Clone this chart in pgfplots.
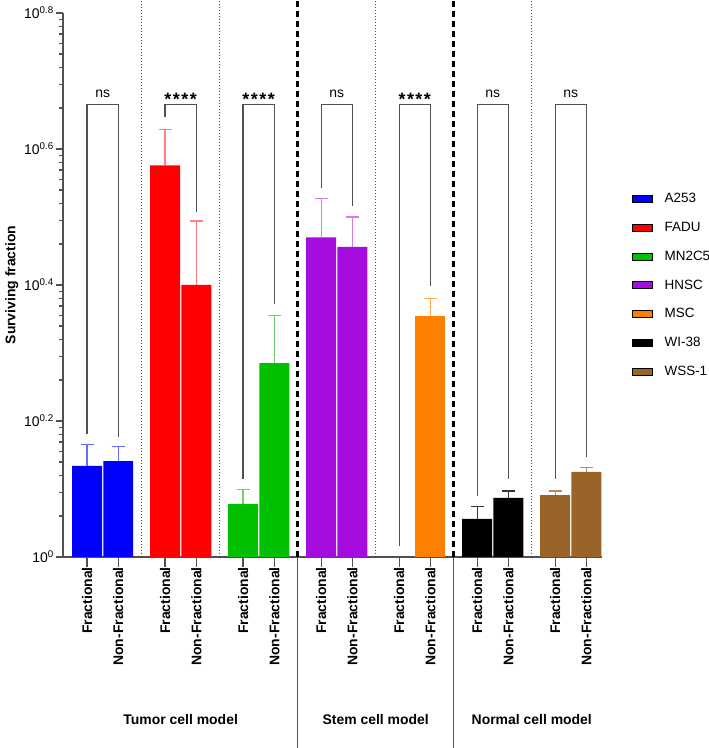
\documentclass[border=0pt]{standalone}
\usepackage{pgfplots}
\pgfplotsset{compat=1.18}
\usepackage{fontspec}
\setmainfont{Liberation Sans}
\definecolor{axgray}{HTML}{505050}
\definecolor{cA}{HTML}{0000FF}
\definecolor{cAe}{HTML}{6A6AFF}
\definecolor{cF}{HTML}{FF0000}
\definecolor{cFe}{HTML}{FF8080}
\definecolor{cM}{HTML}{00C000}
\definecolor{cMe}{HTML}{70D070}
\definecolor{cH}{HTML}{A50DDF}
\definecolor{cHe}{HTML}{D47AF0}
\definecolor{cS}{HTML}{FF8000}
\definecolor{cSe}{HTML}{FFAA55}
\definecolor{cW}{HTML}{000000}
\definecolor{cWe}{HTML}{333333}
\definecolor{cB}{HTML}{9A6428}
\definecolor{cBe}{HTML}{B88A55}
\pgfplotsset{
  mybar/.style 2 args={ybar, bar width=0.96, bar shift=0pt, draw=none, fill=#1, forget plot,
    error bars/y dir=plus, error bars/y explicit,
    error bars/error bar style={line width=1.2bp, color=#2},
    error bars/error mark options={rotate=90, mark size=6.5bp, line width=1.2bp, color=#2}},
  bracket/.style={line width=1.2bp, color=axgray, forget plot, mark=none}
}
\newcommand{\stars}{*\hspace{1.5bp}*\hspace{1.5bp}*\hspace{1.5bp}*}
\begin{document}
\begin{tikzpicture}[x=1bp,y=1bp]
\useasboundingbox (0,0) rectangle (709,748);
\begin{axis}[
  at={(63bp,191bp)}, anchor=south west,
  scale only axis, width=539bp, height=544bp,
  xmin=-0.77, xmax=16.5, ymin=0, ymax=0.8,
  clip=false,
  axis x line*=bottom, axis y line*=left,
  axis line style={line width=1.3bp, color=axgray},
  tick align=outside,
  major tick length=7bp, minor tick length=4bp,
  x tick style={/pgfplots/major tick length=10bp},
  every tick/.style={line width=1.2bp, color=axgray},
  xtick={0,1,2.5,3.5,5,6,7.5,8.5,10,11,12.5,13.5,15,16},
  xticklabels={Fractional,Non-Fractional,Fractional,Non-Fractional,Fractional,Non-Fractional,Fractional,Non-Fractional,Fractional,Non-Fractional,Fractional,Non-Fractional,Fractional,Non-Fractional},
  x tick label style={rotate=90, anchor=east, font=\fontsize{14}{16}\selectfont\bfseries, inner sep=3bp},
  ytick={0,0.2,0.4,0.6,0.8},
  yticklabels={10\textsuperscript{0},10\textsuperscript{0.2},10\textsuperscript{0.4},10\textsuperscript{0.6},10\textsuperscript{0.8}},
  minor ytick={0.0602,0.0954,0.1204,0.1398,0.1556,0.1690,0.1806,0.1908,
               0.2602,0.2954,0.3204,0.3398,0.3556,0.3690,0.3806,0.3908,
               0.4602,0.4954,0.5204,0.5398,0.5556,0.5690,0.5806,0.5908,
               0.6602,0.6954,0.7204,0.7398,0.7556,0.7690,0.7806,0.7908},
  y tick label style={font=\fontsize{14}{16}\selectfont, inner sep=2bp},
  ylabel={Surviving fraction},
  ylabel style={at={(axis description cs:-0.095,0.5)}, anchor=center, font=\fontsize{14}{16}\selectfont\bfseries},
  legend image code/.code={\fill[#1] (0bp,-3.5bp) rectangle (20bp,3.5bp); \path (30bp,0bp);},
  legend cell align=left,
  legend style={draw=none, fill=none, at={(axis description cs:1,1)}, anchor=north west,
    xshift=30bp, yshift=-178bp, row sep=14bp, font=\fontsize{13.5}{16}\selectfont,
    inner sep=0pt, nodes={inner sep=2bp}},
]
% separators
\draw[axgray, line width=0.9bp, dash pattern=on 1bp off 2bp] (axis cs:1.75,0) -- (axis cs:1.75,0.818);
\draw[axgray, line width=0.9bp, dash pattern=on 1bp off 2bp] (axis cs:4.25,0) -- (axis cs:4.25,0.818);
\draw[axgray, line width=0.9bp, dash pattern=on 1bp off 2bp] (axis cs:9.25,0) -- (axis cs:9.25,0.818);
\draw[axgray, line width=0.9bp, dash pattern=on 1bp off 2bp] (axis cs:14.25,0) -- (axis cs:14.25,0.818);
\draw[black, line width=2.6bp, dash pattern=on 6bp off 4bp] (axis cs:6.75,0) -- (axis cs:6.75,0.818);
\draw[black, line width=2.6bp, dash pattern=on 6bp off 4bp] (axis cs:11.75,0) -- (axis cs:11.75,0.818);
\draw[axgray, line width=1.2bp] (axis cs:6.75,0) -- ++(0bp,-200bp);
\draw[axgray, line width=1.2bp] (axis cs:11.75,0) -- ++(0bp,-200bp);

% bars: exponent of surviving fraction, upper error
\addplot[mybar={cA}{cAe}] coordinates {(0,0.134) +- (0,0.032) (1,0.141) +- (0,0.021)};
\addplot[mybar={cF}{cFe}] coordinates {(2.5,0.576) +- (0,0.053) (3.5,0.400) +- (0,0.094)};
\addplot[mybar={cM}{cMe}] coordinates {(5,0.078) +- (0,0.021) (6,0.285) +- (0,0.070)};
\addplot[mybar={cH}{cHe}] coordinates {(7.5,0.470) +- (0,0.057) (8.5,0.456) +- (0,0.044)};
\addplot[mybar={cS}{cSe}] coordinates {(11,0.355) +- (0,0.025)};
\addplot[mybar={cW}{cWe}] coordinates {(12.5,0.056) +- (0,0.018) (13.5,0.087) +- (0,0.010)};
\addplot[mybar={cB}{cBe}] coordinates {(15,0.091) +- (0,0.006) (16,0.125) +- (0,0.007)};

% brackets
\addplot[bracket] coordinates {(0,0.181) (0,0.665) (1,0.665) (1,0.176)};
\addplot[bracket] coordinates {(2.5,0.647) (2.5,0.665) (3.5,0.665) (3.5,0.508)};
\addplot[bracket] coordinates {(5,0.115) (5,0.665) (6,0.665) (6,0.372)};
\addplot[bracket] coordinates {(7.5,0.542) (7.5,0.665) (8.5,0.665) (8.5,0.516)};
\addplot[bracket] coordinates {(10,0.016) (10,0.665) (11,0.665) (11,0.398)};
\addplot[bracket] coordinates {(12.5,0.090) (12.5,0.665) (13.5,0.665) (13.5,0.115)};
\addplot[bracket] coordinates {(15,0.115) (15,0.665) (16,0.665) (16,0.147)};

\node[font=\fontsize{14}{16}\selectfont, anchor=base] at (axis cs:0.5,0.665) [yshift=7bp] {ns};
\node[font=\fontsize{18}{18}\selectfont\bfseries, anchor=base] at (axis cs:3,0.665) [yshift=-1bp] {\stars};
\node[font=\fontsize{18}{18}\selectfont\bfseries, anchor=base] at (axis cs:5.5,0.665) [yshift=-1bp] {\stars};
\node[font=\fontsize{14}{16}\selectfont, anchor=base] at (axis cs:8,0.665) [yshift=7bp] {ns};
\node[font=\fontsize{18}{18}\selectfont\bfseries, anchor=base] at (axis cs:10.5,0.665) [yshift=-1bp] {\stars};
\node[font=\fontsize{14}{16}\selectfont, anchor=base] at (axis cs:13,0.665) [yshift=7bp] {ns};
\node[font=\fontsize{14}{16}\selectfont, anchor=base] at (axis cs:15.5,0.665) [yshift=7bp] {ns};

% group labels
\node[font=\fontsize{14}{16}\selectfont\bfseries] at (axis cs:3,0) [yshift=-163bp] {Tumor cell model};
\node[font=\fontsize{14}{16}\selectfont\bfseries] at (axis cs:9.25,0) [yshift=-163bp] {Stem cell model};
\node[font=\fontsize{14}{16}\selectfont\bfseries] at (axis cs:14.25,0) [yshift=-163bp] {Normal cell model};

% legend
\addlegendimage{fill=cA}\addlegendentry{A253}
\addlegendimage{fill=cF}\addlegendentry{FADU}
\addlegendimage{fill=cM}\addlegendentry{MN2C5}
\addlegendimage{fill=cH}\addlegendentry{HNSC}
\addlegendimage{fill=cS}\addlegendentry{MSC}
\addlegendimage{fill=cW}\addlegendentry{WI-38}
\addlegendimage{fill=cB}\addlegendentry{WSS-1}
\end{axis}
\end{tikzpicture}
\end{document}
